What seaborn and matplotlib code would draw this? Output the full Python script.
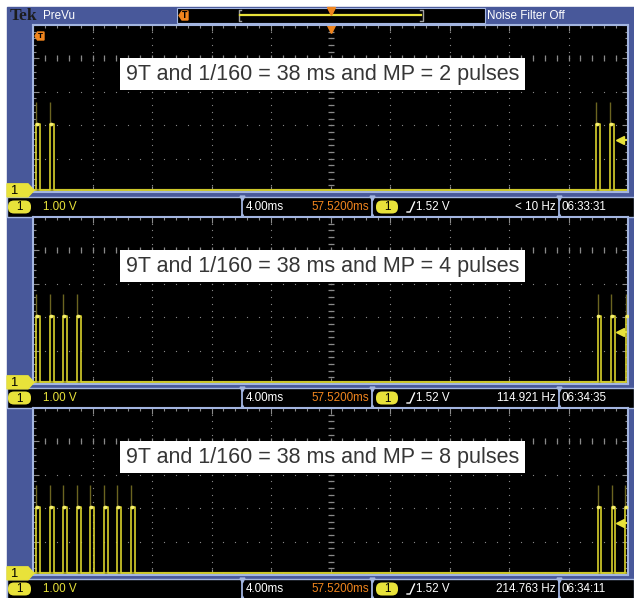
import numpy as np
import matplotlib
matplotlib.use("Agg")
import matplotlib.pyplot as plt
import seaborn as sns
from matplotlib.patches import Rectangle, Polygon, FancyBboxPatch

TIME_PER_DIV = 4.0      # ms / div
VOLT_PER_DIV = 1.00     # V / div
PULSE_HIGH = 2.0        # V
GHOST_HIGH = 2.65       # V, faint overshoot trace
PULSE_WIDTH = 0.25      # ms
TRIGGER_LEVEL = 1.52    # V

MP_COUNTS = [2, 4, 8]
PULSE_TIMES = [
    [0.20, 1.14, 37.85, 38.80],
    [0.20, 1.14, 2.04, 2.96, 37.95, 38.85, 39.85],
    [0.20, 1.14, 2.04, 2.96, 3.85, 4.77, 5.67, 6.59, 37.95, 38.90, 39.80],
]
FREQ_LABELS = ["< 10 Hz", "114.921 Hz", "214.763 Hz"]
CLOCK_LABELS = ["06:33:31", "06:34:35", "06:34:11"]
SCALE_LABEL = "1.00 V"
TIMEBASE_LABEL = "4.00ms"
DELAY_LABEL = "57.5200ms"
TRIG_LABEL = "1.52 V"

# ---- look ----
W, H = 634, 598
BLUE = "#48589a"
FRAME = "#a3b5e0"
YELLOW = "#e8e23a"
TRACE = "#d9d22c"
GHOST = "#6b6420"
ORANGE = "#f0851e"
GRID = "#8a8a8a"
UI_FONT = ["Liberation Sans", "DejaVu Sans"]
UI_SIZE = 8.4
GROUND_OFF = 0.05  # ground sits just above the bottom graticule line

PLOT_X0, PLOT_X1 = 33, 628
PANEL_TOPS = [25, 217, 408]
PANEL_H = 167
STATUS_TOPS = [197, 388, 579]

fig = plt.figure(figsize=(W / 100, H / 100), dpi=100, facecolor="white")

bg = fig.add_axes([0, 0, 1, 1], zorder=0)
bg.set_xlim(0, W)
bg.set_ylim(H, 0)
bg.axis("off")

fg = fig.add_axes([0, 0, 1, 1], zorder=5)
fg.set_xlim(0, W)
fg.set_ylim(H, 0)
fg.axis("off")
fg.patch.set_alpha(0)

bg.add_patch(Rectangle((7, 7), W - 7, H - 7, color=BLUE))

# ---- header bar ----
bg.text(10, 16, "Tek", family="Liberation Serif", weight="bold", fontsize=12.5,
        color="#1c1c1c", va="center")
bg.text(43, 16, "PreVu", family=UI_FONT, fontsize=UI_SIZE, color="white", va="center")
bg.add_patch(Rectangle((177, 8), 308, 15, fc="black", ec=FRAME, lw=0.8))
bg.add_patch(Polygon([(179, 15.5), (182, 11), (188, 11), (188, 20), (182, 20)],
                     closed=True, color=ORANGE))
bg.text(185, 16, "T", fontsize=5.5, color="black", ha="center", va="center", weight="bold")
bg.plot([241, 238.5, 238.5, 241], [10, 10, 21, 21], color="#a0a0a0", lw=1)
bg.plot([420, 422.5, 422.5, 420], [10, 10, 21, 21], color="#a0a0a0", lw=1)
bg.plot([240, 421], [14.5, 14.5], color=YELLOW, lw=1.6)
bg.plot(331, 10.5, marker="v", ms=6, color=ORANGE)
bg.text(487, 16, "Noise Filter Off", family=UI_FONT, fontsize=UI_SIZE, color="white",
        va="center")


def pill(x0, x1, yc):
    bg.add_patch(FancyBboxPatch((x0, yc - 6.5), x1 - x0, 13,
                                boxstyle="round,pad=0,rounding_size=6", fc=YELLOW, ec="none"))
    bg.text((x0 + x1) / 2, yc + 0.5, "1", family=UI_FONT, fontsize=UI_SIZE, color="black",
            ha="center", va="center")


def draw_status(y0, freq, clock):
    bg.add_patch(Rectangle((7, y0), W - 7, 20, fc="black", ec=FRAME, lw=1))
    yc = y0 + 10
    for sx in [242, 372, 559]:
        bg.plot([sx, sx], [y0, y0 + 20], color=FRAME, lw=1.3)
        bg.plot(sx, y0 + 1, marker="v", ms=3.5, color=FRAME)
        bg.plot(sx, y0 + 19, marker="^", ms=3.5, color=FRAME)
    pill(8, 31, yc)
    bg.text(43, yc, SCALE_LABEL, family=UI_FONT, fontsize=UI_SIZE, color=YELLOW, va="center")
    bg.text(246, yc, TIMEBASE_LABEL, family=UI_FONT, fontsize=UI_SIZE, color="white",
            va="center")
    bg.text(369, yc, DELAY_LABEL, family=UI_FONT, fontsize=UI_SIZE, color=ORANGE,
            va="center", ha="right")
    pill(376, 398, yc)
    bg.plot([407, 410, 414.5], [yc + 5, yc + 5, yc - 5], color="white", lw=1)
    bg.text(416, yc, TRIG_LABEL, family=UI_FONT, fontsize=UI_SIZE, color="white", va="center")
    bg.text(556, yc, freq, family=UI_FONT, fontsize=UI_SIZE, color="white",
            va="center", ha="right")
    bg.text(562, yc, clock, family=UI_FONT, fontsize=UI_SIZE, color="white", va="center")


x_major = np.arange(0, 10.5) * TIME_PER_DIV
x_minor = np.arange(0, 50.5) * TIME_PER_DIV / 5
y_major = np.arange(0, 5.5) * VOLT_PER_DIV - GROUND_OFF
y_minor = np.arange(0, 25.5) * VOLT_PER_DIV / 5 - GROUND_OFF
x_lim = (0, 10 * TIME_PER_DIV)
y_lim = (-GROUND_OFF, 5 * VOLT_PER_DIV - GROUND_OFF)

for i, (top, times, mp) in enumerate(zip(PANEL_TOPS, PULSE_TIMES, MP_COUNTS)):
    rect = [PLOT_X0 / W, 1 - (top + PANEL_H) / H, (PLOT_X1 - PLOT_X0) / W, PANEL_H / H]
    ax = fig.add_axes(rect, zorder=1, facecolor="black")
    ax.set_xlim(*x_lim)
    ax.set_ylim(*y_lim)
    ax.set_xticks(x_major)
    ax.set_xticks(x_minor, minor=True)
    ax.set_yticks(y_major)
    ax.set_yticks(y_minor, minor=True)
    ax.tick_params(which="both", direction="in", top=True, right=True, color=GRID,
                   labelbottom=False, labelleft=False, width=0.8)
    ax.tick_params(which="major", length=4)
    ax.tick_params(which="minor", length=2.5)
    for sp in ax.spines.values():
        sp.set_color(FRAME)
        sp.set_linewidth(1.5)

    # dotted graticule
    gx, gy = np.meshgrid(x_major[1:-1], y_minor)
    ax.plot(gx.ravel(), gy.ravel(), ls="none", marker="o", ms=0.9, color=GRID, mew=0)
    gx, gy = np.meshgrid(x_minor, y_major[1:-1])
    ax.plot(gx.ravel(), gy.ravel(), ls="none", marker="o", ms=0.9, color=GRID, mew=0)
    # centre crosshair with minor ticks
    ax.plot(np.full_like(y_minor, 5 * TIME_PER_DIV), y_minor, ls="none", marker="_",
            ms=4, color=GRID, mew=0.9)
    ax.plot(x_minor, np.full_like(x_minor, 4 * VOLT_PER_DIV - GROUND_OFF), ls="none",
            marker="|", ms=4, color=GRID, mew=0.9)

    # waveform
    wx, wy = [x_lim[0]], [0.0]
    for t in times:
        wx += [t, t, t + PULSE_WIDTH, t + PULSE_WIDTH]
        wy += [0.0, PULSE_HIGH, PULSE_HIGH, 0.0]
    wx.append(x_lim[1])
    wy.append(0.0)
    ax.vlines(times, PULSE_HIGH, GHOST_HIGH, color=GHOST, lw=1)
    ax.axhline(0, color="#a9a222", lw=2.3, alpha=0.9)
    sns.lineplot(x=wx, y=wy, ax=ax, sort=False, estimator=None, color=TRACE, lw=1.2)
    sns.scatterplot(x=np.array(times) + 0.06, y=[PULSE_HIGH] * len(times), ax=ax,
                    color="#f4ee70", s=7, linewidth=0, zorder=4)
    ax.set_xlabel("")
    ax.set_ylabel("")

    # trigger level arrow
    ax.plot(39.45, TRIGGER_LEVEL, marker="<", ms=6, color=YELLOW, clip_on=False)
    ax.plot([39.45, 39.9], [TRIGGER_LEVEL, TRIGGER_LEVEL], color=YELLOW, lw=1.5)

    if i == 0:
        ax.plot(5 * TIME_PER_DIV, y_lim[1] - 0.12, marker="v", ms=6, color=ORANGE,
                clip_on=False)
        fg.add_patch(Polygon([(35, 36), (37.5, 32), (44, 32), (44, 40), (37.5, 40)],
                             closed=True, color=ORANGE))
        fg.text(40.5, 36.3, "T", fontsize=5, color="black", ha="center", va="center",
                weight="bold")

    # ground marker
    gy_px = top + PANEL_H - GROUND_OFF * PANEL_H / 5
    fg.add_patch(Polygon([(7, gy_px - 6.5), (28, gy_px - 6.5), (34, gy_px),
                          (28, gy_px + 6.5), (7, gy_px + 6.5)], closed=True, color=YELLOW))
    fg.text(14, gy_px + 0.5, "1", family=UI_FONT, fontsize=UI_SIZE + 1, color="black",
            ha="center", va="center")

    # caption box
    fg.add_patch(Rectangle((120, top + 33), 405, 32, fc="white", ec="none"))
    fg.text(322.5, top + 49.5, f"9T and 1/160 = 38 ms and MP = {mp} pulses",
            family="Liberation Sans", fontsize=15.5, color="#363636",
            ha="center", va="center")

for y0, freq, clock in zip(STATUS_TOPS, FREQ_LABELS, CLOCK_LABELS):
    draw_status(y0, freq, clock)

fig.savefig("out.png", dpi=100, facecolor="white")
